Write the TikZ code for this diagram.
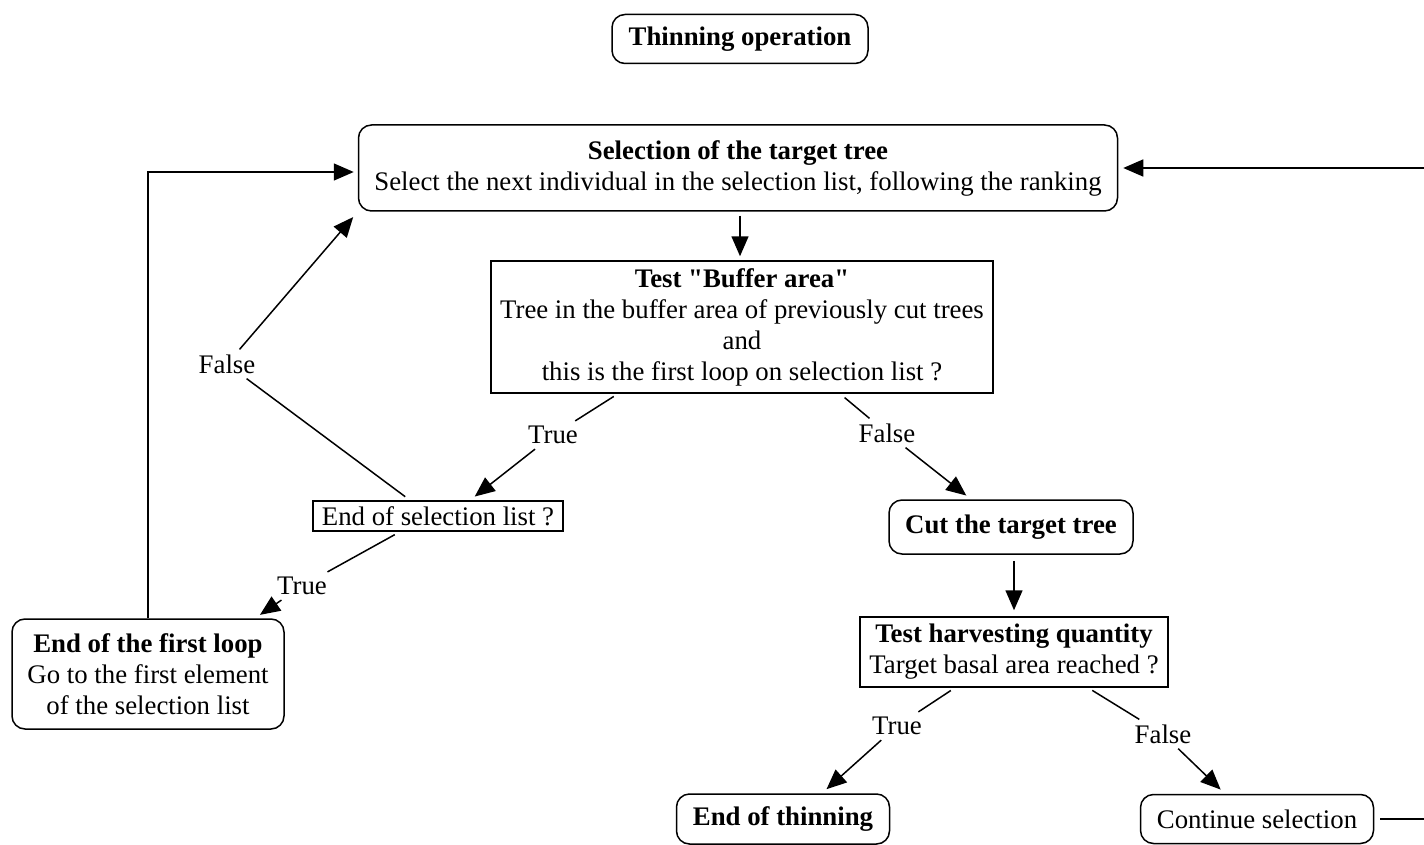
\documentclass[tikz,border=0pt]{standalone}
\usepackage{fontspec}
\setmainfont{Liberation Serif}[Ligatures=TeXOff]
\usetikzlibrary{arrows.meta}
\begin{document}
\begin{tikzpicture}[x=1pt,y=-1pt,
  every node/.style={font=\fontsize{26.8pt}{31pt}\selectfont, align=center},
  rbox/.style={draw, line width=1.5pt, rounded corners=13pt, inner sep=0pt},
  sbox/.style={draw, line width=1.5pt, inner sep=0pt},
  lbl/.style={inner sep=5pt},
  conn/.style={line width=1.5pt},
  arr/.style={line width=1.5pt, -{Triangle[length=20pt,width=17pt]}}]
\useasboundingbox (0,0) rectangle (1424,845);

\node[rbox, minimum width=256pt, minimum height=49pt] (thin) at (740,39) {\textbf{Thinning operation}};
\node[rbox, minimum width=759pt, minimum height=86pt] (sel) at (738,168) {\textbf{Selection of the target tree}\\Select the next individual in the selection list, following the ranking};
\node[sbox, minimum width=502pt, minimum height=132pt] (buf) at (742,327) {\textbf{Test "Buffer area"}\\Tree in the buffer area of previously cut trees\\and\\this is the first loop on selection list ?};
\node[sbox, minimum width=250pt, minimum height=30pt] (eos) at (438,516) {End of selection list ?};
\node[rbox, minimum width=244pt, minimum height=54pt] (cut) at (1011,527) {\textbf{Cut the target tree}};
\node[sbox, minimum width=308pt, minimum height=70pt] (harv) at (1014,652) {\textbf{Test harvesting quantity}\\Target basal area reached ?};
\node[rbox, minimum width=272pt, minimum height=110pt] (loop) at (148,674) {\textbf{End of the first loop}\\Go to the first element\\of the selection list};
\node[rbox, minimum width=213pt, minimum height=50pt] (endt) at (783,819) {\textbf{End of thinning}};
\node[rbox, minimum width=233pt, minimum height=49pt] (cont) at (1257,819) {Continue selection};

\node[lbl] (t1) at (553,435) {True};
\node[lbl] (f1) at (887,433) {False};
\node[lbl] (f2) at (227,364) {False};
\node[lbl] (t2) at (302,586) {True};
\node[lbl] (t3) at (897,726) {True};
\node[lbl] (f3) at (1163,734) {False};
\coordinate (rt) at (1440,0);

\draw[arr, shorten <=4pt, shorten >=4pt] ([xshift=2pt]sel.south) -- ([xshift=-2pt]buf.north);

\draw[conn, shorten <=5pt] ([xshift=-124pt]buf.south) -- (t1);
\draw[arr, shorten >=6pt] (t1) -- ([xshift=32pt]eos.north);

\draw[conn, shorten <=6pt] ([xshift=98pt]buf.south) -- (f1);
\draw[arr, shorten >=6pt] (f1) -- ([xshift=-40pt]cut.north);

\draw[conn, shorten <=6pt] ([xshift=-28pt]eos.north) -- (f2);
\draw[arr, shorten >=7pt] (f2) -- (sel.south west);

\draw[conn, shorten <=6pt] ([xshift=-38pt]eos.south) -- (t2);
\draw[arr, shorten >=6pt] (t2) -- ([xshift=107pt]loop.north);

\draw[arr, shorten >=4pt] (loop.north) |- ([yshift=-4pt]sel.west);

\draw[arr, shorten <=6pt, shorten >=6pt] ([xshift=3pt]cut.south) -- ([xshift=0pt]harv.north);

\draw[conn, shorten <=5pt] ([xshift=-59pt]harv.south) -- (t3);
\draw[arr, shorten >=6pt] (t3) -- ([xshift=39pt]endt.north);

\draw[conn, shorten <=5pt] ([xshift=74pt]harv.south) -- (f3);
\draw[arr, shorten >=6pt] (f3) -- ([xshift=-32pt]cont.north);

\draw[arr, shorten <=6pt, shorten >=5pt] (cont.east) -- (cont.east -| rt) |- (sel.east);
\end{tikzpicture}
\end{document}
